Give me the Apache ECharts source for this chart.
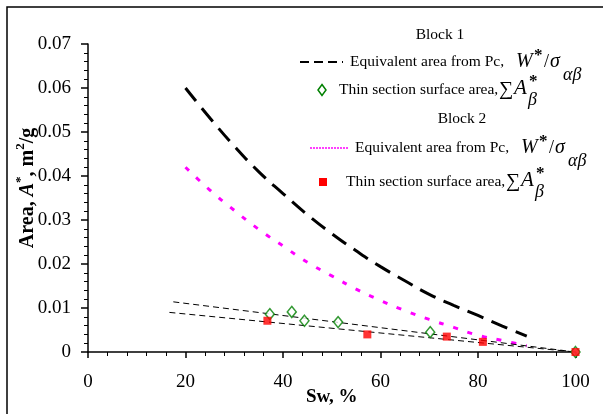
<!DOCTYPE html>
<html>
<head>
<meta charset="utf-8">
<script src="https://cdn.jsdelivr.net/npm/echarts@6/dist/echarts.min.js"></script>
<style>
  html, body { margin: 0; padding: 0; background: #fff; }
  #chart { width: 603px; height: 414px; }
</style>
</head>
<body>
<div id="chart"></div>
<script>
// Sw grid for the capillary-pressure curves
const curveSw = [20, 25, 30, 35, 40, 45, 50, 55, 60, 65, 70, 75, 80, 85, 90];
// Block 1: equivalent area from Pc, W*/sigma
const block1Pc = [0.0600, 0.0532, 0.0468, 0.0410, 0.0360, 0.0312, 0.0269, 0.0230, 0.0194, 0.0162, 0.0131, 0.0106, 0.0083, 0.0059, 0.0036];
// Block 2: equivalent area from Pc
const block2Pc = [0.0420, 0.0368, 0.0322, 0.0279, 0.0241, 0.0204, 0.0173, 0.0143, 0.0117, 0.0094, 0.0074, 0.0056, 0.0038, 0.0026, 0.0014];

// thin section surface areas
const block1ThinSw = [37.3, 41.8, 44.4, 51.3, 70.2, 100];
const block1Thin = [0.0086, 0.0091, 0.0071, 0.0068, 0.0045, 0];
const block2ThinSw = [36.8, 57.3, 73.6, 81.0, 100];
const block2Thin = [0.0071, 0.0040, 0.0035, 0.0023, 0];

// linear fits through thin section data
const fit1Sw = [17.5, 100];
const fit1 = [0.0114, 0];
const fit2Sw = [16.7, 100];
const fit2 = [0.0090, 0];

const xTicks = [0, 20, 40, 60, 80, 100];
const yTicks = ['0', '0.01', '0.02', '0.03', '0.04', '0.05', '0.06', '0.07'];

const FONT = '"Liberation Serif", "Times New Roman", serif';
const zip = (xs, ys) => xs.map((x, i) => [x, ys[i]]);

const chart = echarts.init(document.getElementById('chart'));

function txt(text, x, y, opts) {
    opts = opts || {};
    return {
        type: 'text',
        z: 100,
        style: {
            text: text,
            x: x,
            y: y,
            fill: '#000',
            font: (opts.style || '') + ' ' + (opts.weight || 'normal') + ' ' + (opts.size || 15.5) + 'px ' + FONT,
            textAlign: opts.align || 'left',
            textVerticalAlign: 'middle'
        }
    };
}

// W*/sigma_ab label piece
function wSigma(x, y) {
    return [
        txt('W', x, y, { style: 'italic', size: 20 }),
        txt('*', x + 18, y - 6, { size: 17, weight: 'bold' }),
        txt('/', x + 28, y, { size: 18 }),
        txt('σ', x + 34, y, { style: 'italic', size: 20 }),
        txt('αβ', x + 47, y + 13, { style: 'italic', size: 18 })
    ];
}
// sum A*_b label piece
function sumA(x, y) {
    return [
        txt('∑', x, y, { size: 20 }),
        txt('A', x + 15, y - 2, { style: 'italic', size: 21 }),
        txt('*', x + 30, y - 8, { size: 17, weight: 'bold' }),
        txt('β', x + 29, y + 10, { style: 'italic', size: 18 })
    ];
}

const graphics = [
    // frame (top and left edges)
    {
        type: 'polyline',
        shape: { points: [[7, 414], [7, 7], [603, 7]] },
        style: { stroke: '#000', lineWidth: 1.5, fill: null }
    },
    txt('Block 1', 440, 35, { align: 'center' }),
    {
        type: 'line',
        shape: { x1: 300, y1: 62, x2: 343, y2: 62 },
        style: { stroke: '#000', lineWidth: 2, lineDash: [9, 5] }
    },
    txt('Equivalent area from Pc,', 350, 62),
    ...wSigma(516, 62),
    {
        type: 'polygon',
        shape: { points: [[322, 84.5], [326, 90], [322, 95.5], [318, 90]] },
        style: { stroke: '#008000', lineWidth: 1.5, fill: '#fff' }
    },
    txt('Thin section surface area,', 339, 90),
    ...sumA(499, 90),
    txt('Block 2', 462, 119, { align: 'center' }),
    {
        type: 'line',
        shape: { x1: 310, y1: 148, x2: 348, y2: 148 },
        style: { stroke: '#ff00ff', lineWidth: 1.5, lineDash: [2, 1] }
    },
    txt('Equivalent area from Pc,', 355, 148),
    ...wSigma(521, 148),
    {
        type: 'rect',
        shape: { x: 319, y: 178, width: 8, height: 8 },
        style: { fill: '#ff0000' }
    },
    txt('Thin section surface area,', 346, 182),
    ...sumA(506, 182)
];

const option = {
    animation: false,
    backgroundColor: '#fff',
    grid: { left: 88, right: 27.5, top: 44, bottom: 62, containLabel: false, outerBoundsMode: 'none' },
    xAxis: {
        type: 'value',
        min: 0,
        max: 100,
        interval: 20,
        name: 'Sw, %',
        nameLocation: 'middle',
        nameGap: 36,
        nameMoveOverlap: false,
        nameTextStyle: { fontFamily: FONT, fontWeight: 'bold', fontSize: 19, color: '#000' },
        axisLine: { lineStyle: { color: '#000', width: 1.5 } },
        axisTick: { length: 6, lineStyle: { color: '#000', width: 1.5 } },
        minorTick: { show: true, splitNumber: 5, length: 4, lineStyle: { color: '#000', width: 1 } },
        axisLabel: {
            margin: 21,
            fontFamily: FONT, fontSize: 19, color: '#000',
            formatter: v => String(xTicks[Math.round(v / 20)])
        },
        splitLine: { show: false }
    },
    yAxis: {
        type: 'value',
        min: 0,
        max: 0.07,
        interval: 0.01,
        name: '{b|Area, }{i|A}{sup|*}{b|, m}{sup|2}{b|/g}',
        nameLocation: 'middle',
        nameGap: 50,
        nameMoveOverlap: false,
        nameRotate: 90,
        nameTextStyle: {
            color: '#000',
            padding: [0, 0, 0, 20],
            rich: {
                b: { fontFamily: FONT, fontWeight: 'bold', fontSize: 20, lineHeight: 24, verticalAlign: 'bottom' },
                i: { fontFamily: FONT, fontWeight: 'bold', fontStyle: 'italic', fontSize: 20, lineHeight: 24, verticalAlign: 'bottom' },
                sup: { fontFamily: FONT, fontWeight: 'bold', fontSize: 13, lineHeight: 24, verticalAlign: 'top' }
            }
        },
        axisLine: { show: true, lineStyle: { color: '#000', width: 1.5 } },
        axisTick: { show: true, length: 7, lineStyle: { color: '#000', width: 1.5 } },
        minorTick: { show: true, splitNumber: 5, length: 4, lineStyle: { color: '#000', width: 1 } },
        axisLabel: {
            margin: 17,
            fontFamily: FONT, fontSize: 19, color: '#000',
            formatter: v => yTicks[Math.round(v * 100)]
        },
        splitLine: { show: false }
    },
    series: [
        {
            name: 'Block 1 Pc',
            type: 'line',
            data: zip(curveSw, block1Pc),
            smooth: true,
            symbol: 'none',
            lineStyle: { color: '#000', width: 3, type: [17, 9] },
            z: 3
        },
        {
            name: 'Block 2 Pc',
            type: 'line',
            data: zip(curveSw, block2Pc),
            smooth: true,
            symbol: 'none',
            lineStyle: { color: '#ff00ff', width: 3, type: [5, 10] },
            z: 3
        },
        {
            name: 'Block 1 fit',
            type: 'line',
            data: zip(fit1Sw, fit1),
            symbol: 'none',
            lineStyle: { color: '#000', width: 1, type: [6, 4] },
            z: 4
        },
        {
            name: 'Block 2 fit',
            type: 'line',
            data: zip(fit2Sw, fit2),
            symbol: 'none',
            lineStyle: { color: '#000', width: 1, type: [6, 4] },
            z: 4
        },
        {
            name: 'Block 1 thin section',
            type: 'scatter',
            data: zip(block1ThinSw, block1Thin),
            symbol: 'diamond',
            symbolSize: [9, 11],
            itemStyle: { color: '#fff', borderColor: '#008000', borderWidth: 1.5 },
            z: 5
        },
        {
            name: 'Block 2 thin section',
            type: 'scatter',
            data: zip(block2ThinSw, block2Thin),
            symbol: 'rect',
            symbolSize: 8,
            itemStyle: { color: '#ff0000' },
            z: 6
        }
    ],
    graphic: graphics
};

chart.setOption(option);
</script>
</body>
</html>
